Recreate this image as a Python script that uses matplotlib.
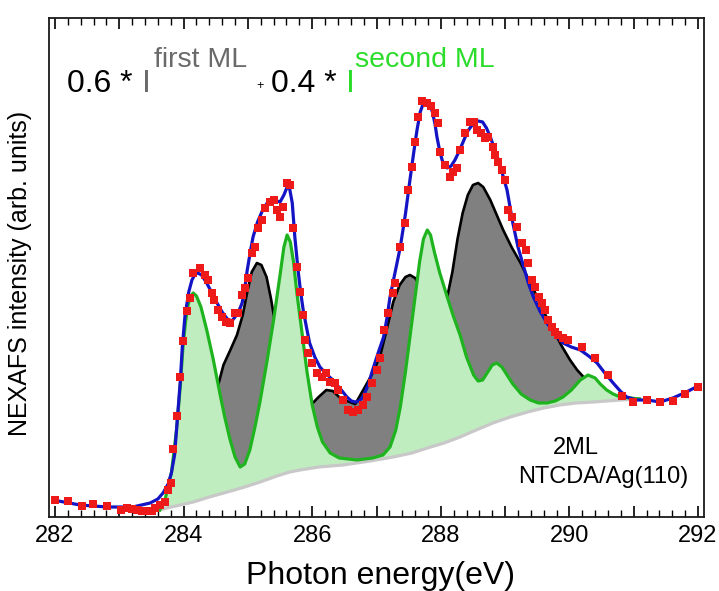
import numpy as np
import matplotlib
matplotlib.use('Agg')
import matplotlib.pyplot as plt
from matplotlib.ticker import MultipleLocator, FuncFormatter

plt.rcParams['font.family'] = ['Liberation Sans', 'DejaVu Sans']

# ---------------- data (photon energy in eV, intensity in arb. units) -------------
exp_e = [282.00, 282.20, 282.42, 282.59, 282.81, 283.02, 283.12, 283.20, 283.28, 283.35,
         283.43, 283.51, 283.55, 283.63, 283.71, 283.75, 283.81, 283.83, 283.89, 283.95,
         283.99, 284.05, 284.10, 284.15, 284.25, 284.33, 284.38, 284.44, 284.48, 284.54,
         284.60, 284.66, 284.72, 284.80, 284.85, 284.91, 284.96, 285.00, 285.06, 285.11,
         285.16, 285.22, 285.26, 285.34, 285.40, 285.46, 285.50, 285.55, 285.61, 285.66,
         285.70, 285.76, 285.81, 285.86, 285.89, 285.93, 285.99, 286.07, 286.15, 286.22,
         286.28, 286.36, 286.40, 286.48, 286.56, 286.63, 286.71, 286.79, 286.85, 286.93,
         287.01, 287.06, 287.11, 287.18, 287.26, 287.29, 287.37, 287.44, 287.49, 287.55,
         287.60, 287.64, 287.70, 287.79, 287.84, 287.91, 287.96, 287.99, 288.07, 288.14,
         288.19, 288.25, 288.30, 288.37, 288.45, 288.51, 288.57, 288.62, 288.69, 288.74,
         288.81, 288.85, 288.89, 288.95, 289.00, 289.05, 289.11, 289.18, 289.26, 289.32,
         289.35, 289.42, 289.47, 289.52, 289.58, 289.62, 289.67, 289.73, 289.78, 289.82,
         289.90, 289.98, 290.19, 290.40, 290.60, 290.82, 290.99, 291.21, 291.41, 291.61,
         291.80, 292.00]
exp_i = [0.17, 0.16, 0.11, 0.13, 0.11, 0.07, 0.09, 0.08, 0.07, 0.06,
         0.06, 0.06, 0.09, 0.12, 0.15, 0.27, 0.34, 0.68, 1.01, 1.40,
         1.76, 2.06, 2.19, 2.44, 2.49, 2.42, 2.37, 2.24, 2.17, 2.07,
         2.00, 1.95, 1.94, 2.04, 2.04, 2.22, 2.29, 2.39, 2.64, 2.70,
         2.89, 2.97, 3.09, 3.15, 3.17, 3.07, 3.00, 3.10, 3.34, 3.32,
         2.89, 2.50, 2.25, 2.02, 1.77, 1.64, 1.54, 1.44, 1.40, 1.44,
         1.35, 1.34, 1.27, 1.17, 1.07, 1.05, 1.07, 1.12, 1.20, 1.34,
         1.47, 1.59, 1.87, 2.04, 2.24, 2.34, 2.70, 2.94, 3.27, 3.50,
         3.75, 4.00, 4.16, 4.14, 4.11, 4.04, 3.94, 3.65, 3.52, 3.40,
         3.45, 3.49, 3.67, 3.84, 3.95, 3.95, 3.87, 3.84, 3.79, 3.80,
         3.70, 3.62, 3.55, 3.47, 3.37, 3.07, 3.00, 2.90, 2.74, 2.67,
         2.54, 2.37, 2.30, 2.20, 2.14, 2.07, 1.97, 1.90, 1.85, 1.82,
         1.79, 1.77, 1.70, 1.59, 1.42, 1.21, 1.15, 1.17, 1.15, 1.16,
         1.23, 1.30]

fit_e = [281.97, 282.39, 282.81, 283.21, 283.48, 283.60, 283.68, 283.76, 283.81, 283.86,
         283.89, 283.92, 283.95, 283.98, 284.02, 284.08, 284.13, 284.18, 284.22, 284.28,
         284.36, 284.44, 284.52, 284.60, 284.68, 284.75, 284.80, 284.86, 284.91, 284.95,
         284.99, 285.04, 285.08, 285.15, 285.23, 285.30, 285.38, 285.45, 285.50, 285.56,
         285.61, 285.65, 285.69, 285.73, 285.78, 285.82, 285.86, 285.91, 285.96, 286.04,
         286.12, 286.22, 286.32, 286.44, 286.54, 286.61, 286.67, 286.73, 286.79, 286.87,
         286.94, 287.02, 287.11, 287.16, 287.21, 287.29, 287.37, 287.45, 287.52, 287.58,
         287.63, 287.68, 287.73, 287.78, 287.83, 287.87, 287.91, 287.94, 287.98, 288.02,
         288.06, 288.10, 288.16, 288.22, 288.28, 288.34, 288.42, 288.51, 288.58, 288.65,
         288.71, 288.77, 288.82, 288.88, 288.95, 289.03, 289.12, 289.20, 289.29, 289.36,
         289.44, 289.54, 289.65, 289.77, 289.90, 290.03, 290.17, 290.30, 290.43, 290.55,
         290.68, 290.79, 290.89, 291.05, 291.21, 291.41, 291.61, 291.82, 292.03]
fit_i = [0.17, 0.12, 0.10, 0.10, 0.14, 0.18, 0.24, 0.33, 0.44, 0.62,
         0.87, 1.12, 1.37, 1.70, 2.00, 2.25, 2.37, 2.43, 2.44, 2.42,
         2.34, 2.24, 2.14, 2.05, 1.98, 1.96, 2.00, 2.06, 2.14, 2.28,
         2.47, 2.66, 2.80, 2.95, 3.07, 3.14, 3.17, 3.16, 3.15, 3.22,
         3.30, 3.28, 3.14, 2.80, 2.47, 2.25, 2.07, 1.90, 1.74, 1.60,
         1.50, 1.43, 1.37, 1.28, 1.20, 1.16, 1.15, 1.16, 1.20, 1.32,
         1.47, 1.63, 1.80, 1.98, 2.20, 2.45, 2.70, 3.03, 3.37, 3.65,
         3.87, 4.05, 4.14, 4.15, 4.12, 4.05, 3.93, 3.80, 3.67, 3.57,
         3.51, 3.49, 3.51, 3.57, 3.65, 3.74, 3.86, 3.94, 3.96, 3.95,
         3.89, 3.80, 3.71, 3.60, 3.45, 3.27, 2.94, 2.70, 2.50, 2.34,
         2.20, 2.06, 1.94, 1.83, 1.74, 1.70, 1.67, 1.61, 1.54, 1.44,
         1.34, 1.26, 1.20, 1.17, 1.17, 1.15, 1.19, 1.25, 1.32]

second_e = [283.63, 283.71, 283.81, 283.89, 283.95, 283.99, 284.03, 284.07, 284.11, 284.15,
            284.20, 284.27, 284.36, 284.46, 284.56, 284.64, 284.72, 284.80, 284.88, 284.95,
            285.03, 285.11, 285.19, 285.30, 285.40, 285.50, 285.56, 285.61, 285.66, 285.71,
            285.76, 285.84, 285.92, 286.00, 286.08, 286.16, 286.28, 286.42, 286.70, 286.94,
            287.10, 287.21, 287.30, 287.37, 287.45, 287.52, 287.60, 287.67, 287.73, 287.79,
            287.84, 287.90, 287.98, 288.10, 288.20, 288.30, 288.40, 288.51, 288.58, 288.65,
            288.72, 288.80, 288.87, 288.95, 289.03, 289.12, 289.25, 289.39, 289.52, 289.65,
            289.78, 289.90, 290.03, 290.17, 290.29, 290.40, 290.48, 290.58, 290.68, 290.79,
            291.09]
second_i = [0.07, 0.17, 0.44, 0.87, 1.32, 1.70, 1.95, 2.12, 2.21, 2.24,
            2.21, 2.10, 1.87, 1.58, 1.25, 1.00, 0.78, 0.60, 0.50, 0.53,
            0.67, 0.90, 1.16, 1.57, 1.97, 2.42, 2.70, 2.82, 2.75, 2.55,
            2.25, 1.85, 1.45, 1.12, 0.90, 0.75, 0.64, 0.59, 0.57, 0.59,
            0.62, 0.70, 0.87, 1.10, 1.45, 1.80, 2.20, 2.55, 2.78, 2.87,
            2.82, 2.65, 2.45, 2.20, 2.00, 1.82, 1.60, 1.42, 1.36, 1.37,
            1.44, 1.52, 1.54, 1.50, 1.42, 1.33, 1.23, 1.17, 1.14, 1.14,
            1.16, 1.20, 1.27, 1.37, 1.42, 1.39, 1.33, 1.27, 1.23, 1.20,
            1.18]

first_e = [283.63, 283.90, 284.20, 284.40, 284.53, 284.62, 284.72, 284.83, 284.92, 284.99,
           285.06, 285.14, 285.21, 285.29, 285.36, 285.42, 285.60, 285.80, 286.01, 286.10,
           286.22, 286.32, 286.42, 286.54, 286.67, 286.82, 286.95, 287.06, 287.15, 287.26,
           287.36, 287.45, 287.52, 287.60, 287.66, 287.85, 288.10, 288.18, 288.26, 288.34,
           288.42, 288.50, 288.58, 288.66, 288.77, 288.87, 288.97, 289.10, 289.24, 289.37,
           289.50, 289.62, 289.75, 289.88, 290.01, 290.12, 290.22, 290.35, 290.48, 290.68,
           290.90, 291.09]
first_i = [0.07, 0.20, 0.45, 0.80, 1.30, 1.52, 1.66, 1.82, 2.02, 2.25,
           2.45, 2.54, 2.52, 2.40, 2.18, 1.95, 1.45, 1.15, 1.14, 1.20,
           1.27, 1.26, 1.20, 1.16, 1.13, 1.30, 1.45, 1.62, 1.85, 2.15,
           2.32, 2.40, 2.42, 2.39, 2.33, 2.05, 2.20, 2.45, 2.78, 3.04,
           3.22, 3.32, 3.34, 3.30, 3.17, 3.02, 2.87, 2.70, 2.54, 2.37,
           2.20, 2.03, 1.87, 1.71, 1.57, 1.47, 1.40, 1.33, 1.29, 1.22,
           1.19, 1.18]

base_e = [283.63, 283.74, 283.95, 284.15, 284.40, 284.68, 284.95, 285.19, 285.45, 285.65,
          285.81, 286.10, 286.48, 286.90, 287.26, 287.55, 287.79, 288.05, 288.30, 288.55,
          288.81, 289.08, 289.35, 289.60, 289.85, 290.10, 290.37, 290.79, 291.09]
base_i = [0.07, 0.09, 0.12, 0.15, 0.20, 0.25, 0.30, 0.35, 0.41, 0.45,
          0.47, 0.50, 0.52, 0.56, 0.60, 0.64, 0.69, 0.74, 0.80, 0.87,
          0.94, 1.00, 1.05, 1.09, 1.12, 1.14, 1.15, 1.17, 1.18]

x_ticks_labelled = [282, 284, 286, 288, 290, 292]

# ---------------- figure ----------------
W, H = 719, 591
fig = plt.figure(figsize=(W / 100, H / 100), dpi=100)
L, R, T, B = 49, 704, 18, 517
ax = fig.add_axes([L / W, 1 - B / H, (R - L) / W, (B - T) / H])

ax.fill(np.concatenate([first_e, base_e[::-1]]), np.concatenate([first_i, base_i[::-1]]),
        color='#808080', lw=0, zorder=1)
ax.plot(first_e, first_i, color='black', lw=1.9, zorder=2, solid_joinstyle='round')
ax.fill(np.concatenate([second_e, base_e[::-1]]), np.concatenate([second_i, base_i[::-1]]),
        color='#bfedbf', lw=0, zorder=3)
ax.plot(base_e, base_i, color='#c8c8c8', lw=2.3, zorder=3.5, solid_joinstyle='round')
ax.plot(second_e, second_i, color='#1fb41f', lw=2.3, zorder=4, solid_joinstyle='round')
ax.plot(fit_e, fit_i, color='#1414c4', lw=2.3, zorder=6, solid_joinstyle='round')
ax.plot(exp_e, exp_i, 's', color='#ee1a1a', ms=5.3, mew=0, zorder=7)

ax.set_xlim(281.907, 292.093)
ax.set_ylim(0, 4.99)
ax.xaxis.set_major_locator(MultipleLocator(1))
ax.xaxis.set_minor_locator(MultipleLocator(0.2))
ax.xaxis.set_major_formatter(FuncFormatter(
    lambda v, p: f'{v:.0f}' if int(round(v)) in x_ticks_labelled else ''))
ax.set_yticks([])
ax.tick_params(axis='x', which='both', direction='in', top=True, bottom=True,
               labelsize=17, pad=6, colors='black')
ax.tick_params(axis='x', which='major', length=8, width=1.2)
ax.tick_params(axis='x', which='minor', length=5, width=1.0)
for s in ax.spines.values():
    s.set_linewidth(1.3)
    s.set_color('#1a1a1a')

fig.text(380 / W, 1 - 584 / H, 'Photon energy(eV)', fontsize=23, ha='center', va='baseline')
fig.text(20 / W, 1 - 273 / H, 'NEXAFS intensity (arb. units)', fontsize=18,
         rotation=90, ha='center', va='center')

fig.text(67 / W, 1 - 92 / H, '0.6 *', fontsize=23, ha='left', va='baseline', color='black')
fig.text(142 / W, 1 - 92 / H, 'I', fontsize=23, ha='left', va='baseline', color='#6a6a6a')
fig.text(154 / W, 1 - 67 / H, 'first ML', fontsize=20.5, ha='left', va='baseline', color='#6a6a6a')
fig.text(256 / W, 1 - 89 / H, '+', fontsize=9, ha='left', va='baseline', color='black')
fig.text(271 / W, 1 - 92 / H, '0.4 *', fontsize=23, ha='left', va='baseline', color='black')
fig.text(346 / W, 1 - 92 / H, 'I', fontsize=23, ha='left', va='baseline', color='#2bdc2b')
fig.text(355 / W, 1 - 67 / H, 'second ML', fontsize=20.5, ha='left', va='baseline', color='#2bdc2b')

fig.text(553 / W, 1 - 454 / H, '2ML', fontsize=17, ha='left', va='baseline')
fig.text(518 / W, 1 - 483 / H, 'NTCDA/Ag(110)', fontsize=17, ha='left', va='baseline')

fig.savefig('out.png', dpi=100)
